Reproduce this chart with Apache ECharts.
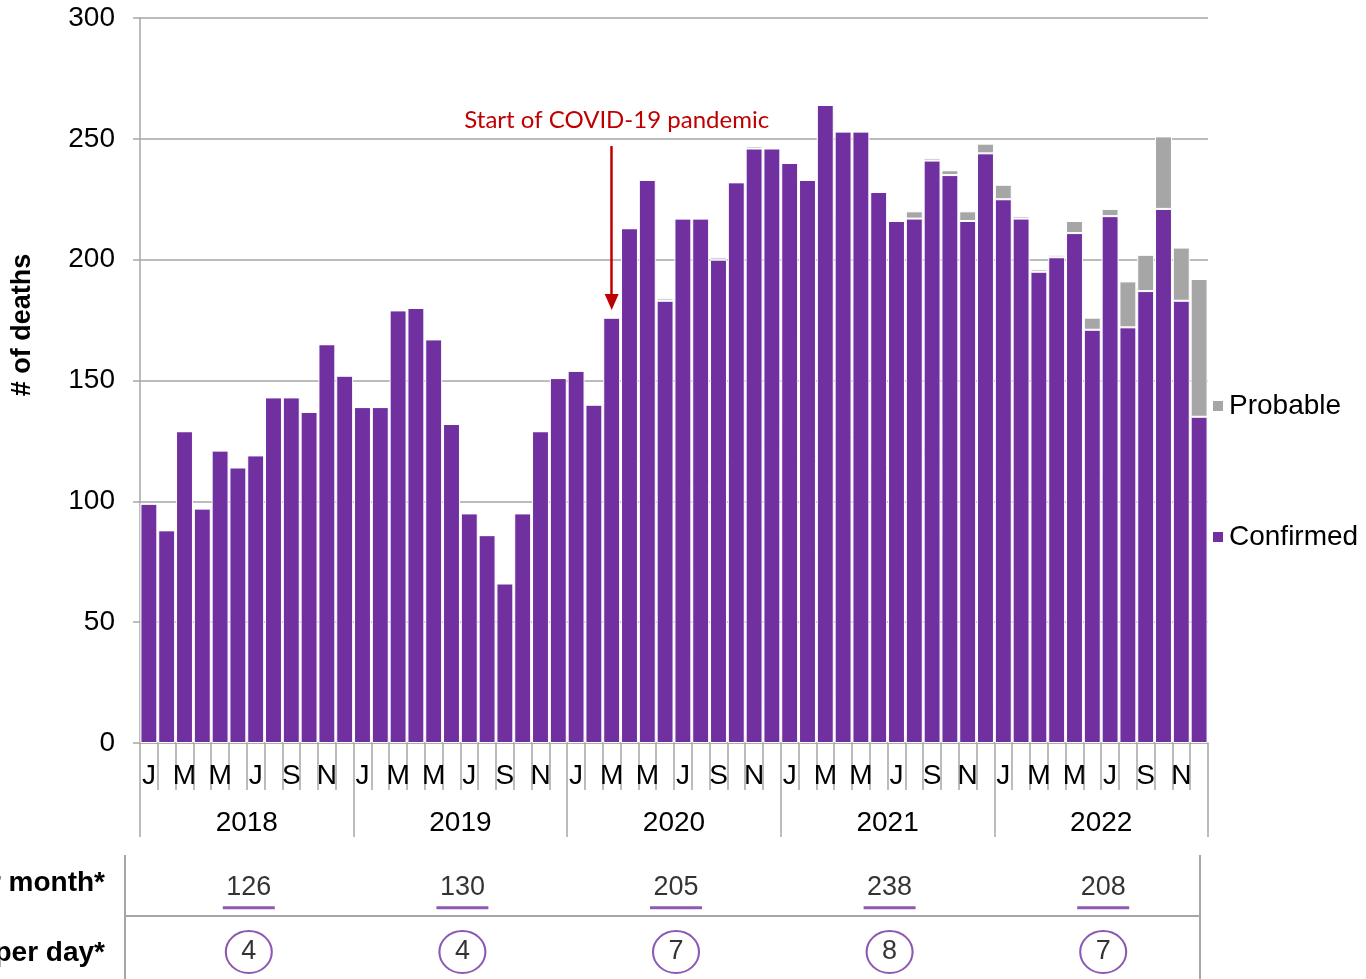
<!DOCTYPE html>
<html>
<head>
<meta charset="utf-8">
<style>
  html, body { margin: 0; padding: 0; background: #fff; }
  #chart { width: 1366px; height: 979px; }
</style>
<script src="https://cdn.jsdelivr.net/npm/echarts@6/dist/echarts.min.js"></script>
</head>
<body>
<div id="chart"></div>
<script>
// categories
var years = ['2018', '2019', '2020', '2021', '2022'];
var monthLetters = ['J', 'F', 'M', 'A', 'M', 'J', 'J', 'A', 'S', 'O', 'N', 'D'];

// monthly deaths, Jan 2018 - Dec 2022
var confirmed = [
  99, 88, 129, 97, 121, 114, 119, 143, 143, 137, 165, 152,
  139, 139, 179, 180, 167, 132, 95, 86, 66, 95, 129, 151,
  154, 140, 176, 213, 233, 183, 217, 217, 200, 232, 246, 246,
  240, 233, 264, 253, 253, 228, 216, 217, 241, 235, 216, 244,
  225, 217, 195, 201, 211, 171, 218, 172, 187, 221, 183, 135
];
var probable = [
  0, 0, 0, 0, 0, 0, 0, 0, 0, 0, 0, 0,
  0, 0, 0, 0, 0, 0, 0, 0, 0, 0, 0, 0,
  0, 0, 0, 0, 0, 1, 0, 0, 1, 0, 1, 0,
  0, 0, 0, 0, 0, 0, 0, 3, 1, 2, 4, 4,
  6, 1, 1, 1, 5, 5, 3, 19, 15, 30, 22, 57
];

// table below the chart
var avgPerMonth = [126, 130, 205, 238, 208];
var avgPerDay = [4, 4, 7, 8, 7];

var covidStart = '2020-03';
var covidText = 'Start of COVID-19 pandemic';

var months = [];
years.forEach(function (y) {
  for (var m = 1; m <= 12; m++) {
    months.push(y + '-' + (m < 10 ? '0' + m : m));
  }
});

var purple = '#7030a0';
var grey = '#a6a6a6';
var font = '"Liberation Sans", Arial, sans-serif';

var myChart = echarts.init(document.getElementById('chart'));
var option = {
  animation: false,
  textStyle: { fontFamily: font },
  legend: {
    data: ['Probable', 'Confirmed'],
    orient: 'vertical',
    left: 1206,
    top: 387,
    itemGap: 103,
    itemWidth: 12,
    itemHeight: 12,
    icon: 'rect',
    selectedMode: false,
    textStyle: { fontSize: 28, color: '#000', fontFamily: font }
  },
  grid: [
    { left: 140, right: 158, top: 18, bottom: 236 },
    { left: 140, right: 158, top: 855, bottom: 0 }
  ],
  xAxis: [
    {
      type: 'category',
      gridIndex: 0,
      data: months,
      position: 'bottom',
      axisLine: { show: true, lineStyle: { color: grey, width: 1.5 } },
      axisTick: { show: true, interval: 0, length: 47, lineStyle: { color: grey, width: 1.5 } },
      axisLabel: {
        interval: 1,
        margin: 19,
        fontSize: 28,
        color: '#000',
        formatter: function (v) {
          return monthLetters[parseInt(v.slice(5), 10) - 1];
        }
      }
    },
    {
      type: 'category',
      gridIndex: 0,
      data: years,
      position: 'bottom',
      axisLine: { show: false },
      axisTick: { show: true, interval: 0, length: 94, lineStyle: { color: grey, width: 1.5 } },
      axisLabel: { interval: 0, margin: 66, fontSize: 28, color: '#000' }
    },
    {
      type: 'category',
      gridIndex: 1,
      data: years,
      show: false
    }
  ],
  yAxis: [
    {
      type: 'value',
      gridIndex: 0,
      min: 0,
      max: 300,
      interval: 50,
      axisLine: { show: true, lineStyle: { color: grey, width: 1.5 } },
      axisTick: { show: true, length: 7, lineStyle: { color: grey, width: 1.5 } },
      axisLabel: { margin: 25, fontSize: 28, color: '#000' },
      splitLine: { lineStyle: { color: grey, width: 1.5 } }
    },
    {
      type: 'value',
      gridIndex: 1,
      min: 0,
      max: 2,
      show: false
    }
  ],
  series: [
    {
      name: 'Confirmed',
      type: 'bar',
      stack: 'deaths',
      data: confirmed,
      barCategoryGap: '5%',
      itemStyle: { color: purple, borderColor: '#fff', borderWidth: 1 },
      markLine: {
        silent: true,
        symbol: ['none', 'triangle'],
        symbolSize: [14, 16],
        lineStyle: { color: '#c00000', width: 2.5, type: 'solid' },
        label: {
          show: true,
          position: 'start',
          distance: 14,
          padding: [0, 0, 0, 10],
          formatter: covidText,
          color: '#c00000',
          fontSize: 24,
          fontFamily: 'Lato, "Open Sans", sans-serif'
        },
        data: [
          [
            { coord: [covidStart, 247] },
            { coord: [covidStart, 182.5] }
          ]
        ]
      }
    },
    {
      name: 'Probable',
      type: 'bar',
      stack: 'deaths',
      data: probable,
      barCategoryGap: '5%',
      itemStyle: { color: grey, borderColor: '#fff', borderWidth: 1 }
    },
    {
      // monthly averages row
      name: 'avgMonth',
      type: 'scatter',
      xAxisIndex: 2,
      yAxisIndex: 1,
      silent: true,
      symbolSize: 1,
      symbolOffset: [2, 0],
      itemStyle: { color: 'transparent' },
      data: years.map(function (y) { return [y, 1.47]; }),
      label: {
        show: true,
        position: 'inside',
        fontSize: 27,
        color: '#000',
        formatter: function (p) { return avgPerMonth[p.dataIndex]; }
      }
    },
    {
      name: 'avgMonthLine',
      type: 'scatter',
      xAxisIndex: 2,
      yAxisIndex: 1,
      silent: true,
      symbol: 'rect',
      symbolSize: [52, 3],
      symbolOffset: [2, 20],
      itemStyle: { color: purple },
      data: years.map(function (y) { return [y, 1.47]; })
    },
    {
      // daily averages row
      name: 'avgDay',
      type: 'scatter',
      xAxisIndex: 2,
      yAxisIndex: 1,
      silent: true,
      symbol: 'circle',
      symbolSize: [46, 42],
      symbolOffset: [2, 0],
      itemStyle: { color: '#fff', borderColor: purple, borderWidth: 2 },
      data: years.map(function (y) { return [y, 0.435]; }),
      label: {
        show: true,
        position: 'inside',
        fontSize: 27,
        color: '#000',
        formatter: function (p) { return avgPerDay[p.dataIndex]; }
      }
    }
  ],
  graphic: [
    {
      type: 'text',
      x: 23,
      y: 325,
      rotation: Math.PI / 2,
      style: {
        text: '# of deaths',
        font: 'bold 27px ' + font,
        textAlign: 'center',
        textVerticalAlign: 'middle',
        align: 'center',
        verticalAlign: 'middle',
        fill: '#000'
      }
    },
    {
      type: 'text',
      x: 105,
      y: 883,
      style: {
        text: 'Average deaths per month*',
        font: 'bold 28px ' + font,
        textAlign: 'right',
        textVerticalAlign: 'middle',
        align: 'right',
        verticalAlign: 'middle',
        fill: '#000'
      }
    },
    {
      type: 'text',
      x: 105,
      y: 953,
      style: {
        text: 'Average deaths per day*',
        font: 'bold 28px ' + font,
        textAlign: 'right',
        textVerticalAlign: 'middle',
        align: 'right',
        verticalAlign: 'middle',
        fill: '#000'
      }
    },
    {
      type: 'line',
      shape: { x1: 125, y1: 916, x2: 1200, y2: 916 },
      style: { stroke: grey, lineWidth: 2 }
    },
    {
      type: 'line',
      shape: { x1: 125, y1: 855, x2: 125, y2: 979 },
      style: { stroke: grey, lineWidth: 2 }
    },
    {
      type: 'line',
      shape: { x1: 1200, y1: 855, x2: 1200, y2: 979 },
      style: { stroke: grey, lineWidth: 2 }
    }
  ]
};
myChart.setOption(option);
window.addEventListener('resize', function () {
  myChart.resize();
});
</script>
</body>
</html>
